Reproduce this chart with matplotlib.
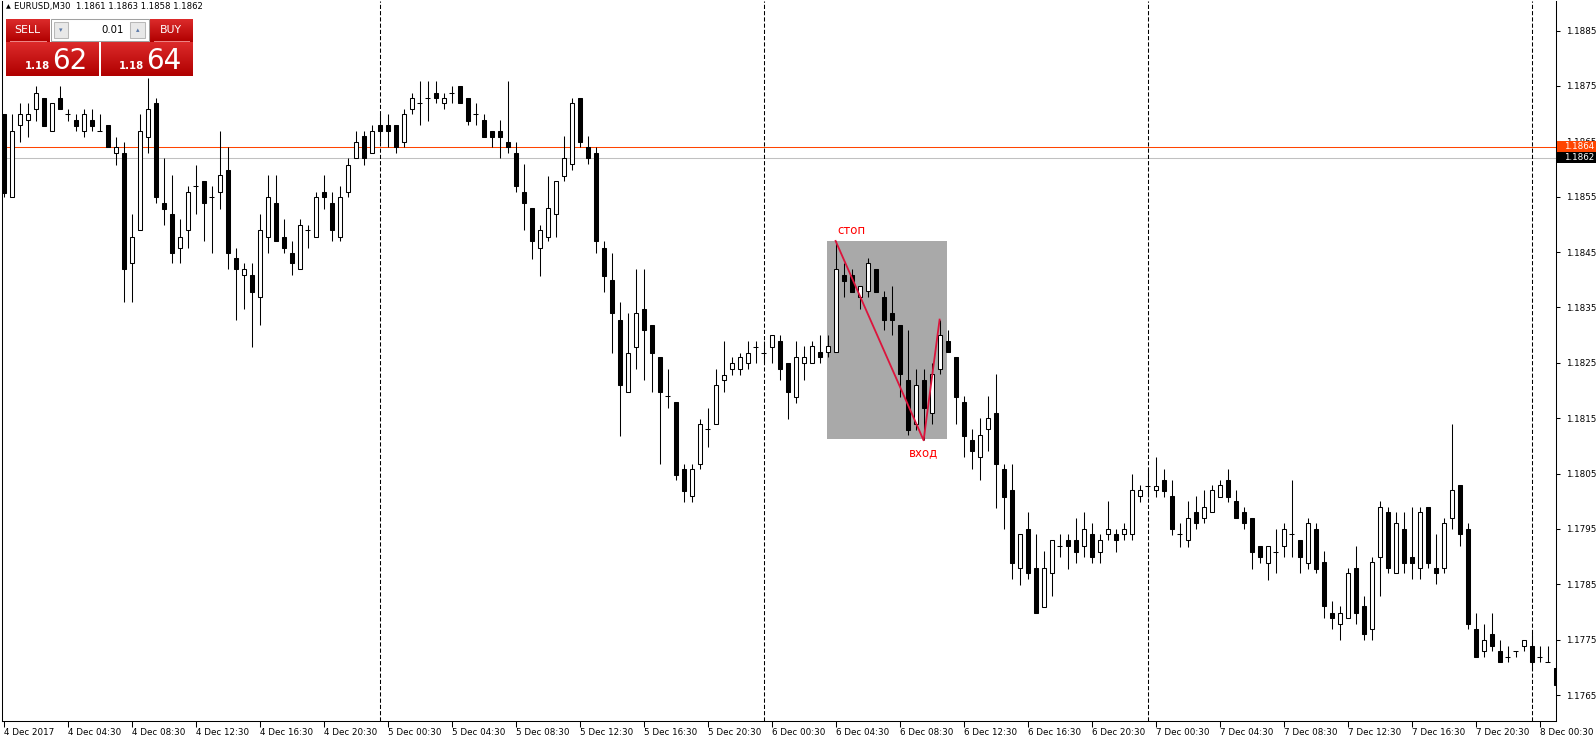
import matplotlib
matplotlib.use("Agg")
import matplotlib.pyplot as plt
from matplotlib.patches import Rectangle
from matplotlib.colors import LinearSegmentedColormap
from matplotlib.transforms import blended_transform_factory
import numpy as np

# EURUSD M30, 4 Dec 00:30 .. 8 Dec 01:00 (one bar per half hour)
opens = [1.18699, 1.18549, 1.18679, 1.18688, 1.18708, 1.18728, 1.18668, 1.18728, 1.18699, 1.18688,
         1.18668, 1.18688, 1.18668, 1.18679, 1.18628, 1.18628, 1.18430, 1.18489, 1.18658, 1.18719,
         1.18538, 1.18518, 1.18458, 1.18489, 1.18569, 1.18579, 1.18549, 1.18558, 1.18599, 1.18439,
         1.18409, 1.18409, 1.18368, 1.18478, 1.18538, 1.18478, 1.18449, 1.18419, 1.18489, 1.18478,
         1.18558, 1.18538, 1.18478, 1.18558, 1.18619, 1.18659, 1.18628, 1.18679, 1.18679, 1.18679,
         1.18648, 1.18708, 1.18719, 1.18728, 1.18738, 1.18719, 1.18738, 1.18750, 1.18728, 1.18699,
         1.18688, 1.18668, 1.18668, 1.18648, 1.18628, 1.18558, 1.18529, 1.18458, 1.18478, 1.18518,
         1.18588, 1.18609, 1.18728, 1.18639, 1.18629, 1.18458, 1.18399, 1.18328, 1.18198, 1.18279,
         1.18348, 1.18319, 1.18260, 1.18190, 1.18179, 1.18059, 1.18009, 1.18068, 1.18130, 1.18139,
         1.18218, 1.18238, 1.18238, 1.18249, 1.18279, 1.18268, 1.18279, 1.18289, 1.18249, 1.18189,
         1.18249, 1.18249, 1.18269, 1.18269, 1.18269, 1.18409, 1.18409, 1.18368, 1.18379, 1.18419,
         1.18368, 1.18339, 1.18319, 1.18218, 1.18139, 1.18218, 1.18159, 1.18239, 1.18289, 1.18260,
         1.18179, 1.18110, 1.18079, 1.18130, 1.18159, 1.18059, 1.18020, 1.17879, 1.17949, 1.17879,
         1.17809, 1.17870, 1.17919, 1.17930, 1.17930, 1.17919, 1.17940, 1.17909, 1.17940, 1.17940,
         1.17940, 1.17940, 1.18009, 1.18028, 1.18020, 1.18039, 1.18009, 1.17940, 1.17930, 1.17980,
         1.17969, 1.17980, 1.18008, 1.18039, 1.18000, 1.17980, 1.17969, 1.17919, 1.17889, 1.17909,
         1.17919, 1.17940, 1.17930, 1.17889, 1.17949, 1.17890, 1.17799, 1.17779, 1.17790, 1.17879,
         1.17810, 1.17770, 1.17899, 1.17980, 1.17870, 1.17949, 1.17899, 1.17879, 1.17989, 1.17879,
         1.17879, 1.17969, 1.18029, 1.17949, 1.17770, 1.17729, 1.17760, 1.17729, 1.17719, 1.17729,
         1.17739, 1.17739, 1.17719, 1.17709, 1.17699]
highs = [1.18700, 1.18699, 1.18719, 1.18719, 1.18750, 1.18728, 1.18719, 1.18750, 1.18708, 1.18699,
         1.18708, 1.18708, 1.18699, 1.18679, 1.18658, 1.18648, 1.18518, 1.18699, 1.18764, 1.18728,
         1.18619, 1.18589, 1.18509, 1.18569, 1.18608, 1.18579, 1.18569, 1.18668, 1.18639, 1.18458,
         1.18430, 1.18430, 1.18518, 1.18589, 1.18589, 1.18509, 1.18469, 1.18509, 1.18498, 1.18558,
         1.18589, 1.18558, 1.18569, 1.18619, 1.18668, 1.18668, 1.18679, 1.18699, 1.18699, 1.18679,
         1.18708, 1.18738, 1.18759, 1.18759, 1.18759, 1.18738, 1.18750, 1.18750, 1.18728, 1.18719,
         1.18699, 1.18668, 1.18688, 1.18759, 1.18648, 1.18609, 1.18529, 1.18498, 1.18588, 1.18579,
         1.18660, 1.18728, 1.18728, 1.18660, 1.18639, 1.18469, 1.18449, 1.18359, 1.18339, 1.18419,
         1.18419, 1.18319, 1.18260, 1.18238, 1.18179, 1.18068, 1.18068, 1.18149, 1.18169, 1.18238,
         1.18289, 1.18260, 1.18268, 1.18289, 1.18289, 1.18289, 1.18300, 1.18300, 1.18249, 1.18289,
         1.18280, 1.18289, 1.18300, 1.18300, 1.18470, 1.18430, 1.18419, 1.18388, 1.18439, 1.18419,
         1.18379, 1.18389, 1.18319, 1.18309, 1.18239, 1.18239, 1.18249, 1.18328, 1.18309, 1.18260,
         1.18190, 1.18130, 1.18150, 1.18190, 1.18229, 1.18068, 1.18068, 1.17941, 1.17980, 1.17941,
         1.17910, 1.17930, 1.17940, 1.17940, 1.17970, 1.17980, 1.17960, 1.17940, 1.18000, 1.17950,
         1.17960, 1.18049, 1.18029, 1.18059, 1.18079, 1.18059, 1.18039, 1.17960, 1.18000, 1.18009,
         1.18020, 1.18029, 1.18039, 1.18059, 1.18020, 1.17989, 1.17969, 1.17919, 1.17919, 1.17949,
         1.17960, 1.18039, 1.17930, 1.17969, 1.17960, 1.17910, 1.17820, 1.17810, 1.17880, 1.17920,
         1.17829, 1.17900, 1.18000, 1.17989, 1.17980, 1.17980, 1.17989, 1.17989, 1.17989, 1.17940,
         1.17969, 1.18139, 1.18029, 1.17960, 1.17799, 1.17779, 1.17799, 1.17749, 1.17739, 1.17729,
         1.17749, 1.17763, 1.17739, 1.17739, 1.17709]
lows = [1.18549, 1.18549, 1.18648, 1.18658, 1.18687, 1.18678, 1.18668, 1.18708, 1.18687, 1.18668,
        1.18658, 1.18668, 1.18668, 1.18639, 1.18608, 1.18359, 1.18359, 1.18489, 1.18628, 1.18538,
        1.18498, 1.18430, 1.18430, 1.18458, 1.18518, 1.18469, 1.18449, 1.18528, 1.18419, 1.18328,
        1.18348, 1.18279, 1.18319, 1.18449, 1.18469, 1.18449, 1.18409, 1.18419, 1.18458, 1.18478,
        1.18528, 1.18469, 1.18469, 1.18549, 1.18619, 1.18608, 1.18628, 1.18648, 1.18639, 1.18628,
        1.18639, 1.18699, 1.18679, 1.18687, 1.18719, 1.18708, 1.18719, 1.18719, 1.18679, 1.18679,
        1.18658, 1.18639, 1.18619, 1.18628, 1.18558, 1.18489, 1.18438, 1.18407, 1.18469, 1.18478,
        1.18579, 1.18599, 1.18639, 1.18609, 1.18449, 1.18378, 1.18268, 1.18118, 1.18198, 1.18238,
        1.18218, 1.18198, 1.18068, 1.18169, 1.18039, 1.17999, 1.17999, 1.18059, 1.18098, 1.18139,
        1.18198, 1.18228, 1.18228, 1.18238, 1.18249, 1.18249, 1.18249, 1.18218, 1.18149, 1.18178,
        1.18218, 1.18249, 1.18249, 1.18260, 1.18269, 1.18368, 1.18378, 1.18348, 1.18368, 1.18378,
        1.18309, 1.18300, 1.18189, 1.18120, 1.18129, 1.18110, 1.18139, 1.18229, 1.18269, 1.18139,
        1.18079, 1.18059, 1.18039, 1.18090, 1.17988, 1.17949, 1.17859, 1.17849, 1.17859, 1.17799,
        1.17809, 1.17829, 1.17899, 1.17878, 1.17889, 1.17899, 1.17889, 1.17889, 1.17930, 1.17909,
        1.17930, 1.17930, 1.17999, 1.18008, 1.18008, 1.18008, 1.17939, 1.17918, 1.17918, 1.17949,
        1.17960, 1.17980, 1.18008, 1.17999, 1.17969, 1.17949, 1.17878, 1.17889, 1.17858, 1.17870,
        1.17899, 1.17899, 1.17870, 1.17878, 1.17870, 1.17790, 1.17770, 1.17749, 1.17790, 1.17779,
        1.17749, 1.17749, 1.17829, 1.17870, 1.17870, 1.17870, 1.17859, 1.17859, 1.17879, 1.17850,
        1.17870, 1.17949, 1.17919, 1.17770, 1.17719, 1.17719, 1.17729, 1.17709, 1.17709, 1.17719,
        1.17729, 1.17695, 1.17709, 1.17709, 1.17658]
closes = [1.18557, 1.18668, 1.18699, 1.18699, 1.18738, 1.18678, 1.18719, 1.18708, 1.18699, 1.18678,
          1.18699, 1.18678, 1.18668, 1.18639, 1.18639, 1.18419, 1.18478, 1.18668, 1.18708, 1.18549,
          1.18528, 1.18449, 1.18478, 1.18558, 1.18569, 1.18538, 1.18549, 1.18589, 1.18449, 1.18419,
          1.18419, 1.18378, 1.18489, 1.18549, 1.18469, 1.18458, 1.18430, 1.18498, 1.18489, 1.18549,
          1.18549, 1.18489, 1.18549, 1.18608, 1.18648, 1.18619, 1.18668, 1.18668, 1.18668, 1.18639,
          1.18699, 1.18728, 1.18719, 1.18728, 1.18728, 1.18728, 1.18738, 1.18719, 1.18687, 1.18699,
          1.18658, 1.18658, 1.18658, 1.18639, 1.18569, 1.18538, 1.18469, 1.18489, 1.18529, 1.18579,
          1.18619, 1.18719, 1.18648, 1.18619, 1.18469, 1.18407, 1.18339, 1.18209, 1.18268, 1.18339,
          1.18309, 1.18268, 1.18198, 1.18190, 1.18048, 1.18019, 1.18059, 1.18139, 1.18130, 1.18209,
          1.18228, 1.18249, 1.18260, 1.18268, 1.18279, 1.18268, 1.18300, 1.18238, 1.18198, 1.18260,
          1.18260, 1.18280, 1.18260, 1.18280, 1.18419, 1.18398, 1.18378, 1.18388, 1.18430, 1.18378,
          1.18328, 1.18328, 1.18229, 1.18129, 1.18209, 1.18169, 1.18229, 1.18300, 1.18269, 1.18189,
          1.18118, 1.18090, 1.18120, 1.18150, 1.18068, 1.18008, 1.17889, 1.17941, 1.17870, 1.17799,
          1.17879, 1.17930, 1.17919, 1.17919, 1.17909, 1.17950, 1.17899, 1.17930, 1.17950, 1.17930,
          1.17950, 1.18020, 1.18020, 1.18028, 1.18028, 1.18019, 1.17949, 1.17940, 1.17969, 1.17960,
          1.17989, 1.18020, 1.18029, 1.18008, 1.17969, 1.17960, 1.17909, 1.17899, 1.17919, 1.17909,
          1.17949, 1.17940, 1.17899, 1.17960, 1.17878, 1.17810, 1.17790, 1.17799, 1.17870, 1.17799,
          1.17760, 1.17890, 1.17989, 1.17879, 1.17960, 1.17889, 1.17889, 1.17980, 1.17889, 1.17870,
          1.17960, 1.18020, 1.17940, 1.17779, 1.17719, 1.17749, 1.17739, 1.17709, 1.17719, 1.17729,
          1.17749, 1.17709, 1.17719, 1.17709, 1.17668]

time_labels = ["4 Dec 2017", "4 Dec 04:30", "4 Dec 08:30", "4 Dec 12:30", "4 Dec 16:30", "4 Dec 20:30",
               "5 Dec 00:30", "5 Dec 04:30", "5 Dec 08:30", "5 Dec 12:30", "5 Dec 16:30", "5 Dec 20:30",
               "6 Dec 00:30", "6 Dec 04:30", "6 Dec 08:30", "6 Dec 12:30", "6 Dec 16:30", "6 Dec 20:30",
               "7 Dec 00:30", "7 Dec 04:30", "7 Dec 08:30", "7 Dec 12:30", "7 Dec 16:30", "7 Dec 20:30",
               "8 Dec 00:30"]
label_step = 8
day_breaks = [47, 95, 143, 191]
price_ticks = [1.1765, 1.1775, 1.1785, 1.1795, 1.1805, 1.1815, 1.1825,
               1.1835, 1.1845, 1.1855, 1.1865, 1.1875, 1.1885]
ask_price, bid_price = 1.1864, 1.1862
header = "EURUSD,M30  1.1861 1.1863 1.1858 1.1862"

# hand drawn trade idea
trade_bars = [104, 115, 117]
trade_prices = [1.18470, 1.18110, 1.18328]
box_bars = (103, 118)
box_prices = (1.18113, 1.18470)

W, H = 1596, 744
plt.rcParams["font.family"] = "DejaVu Sans"
fig = plt.figure(figsize=(W / 100, H / 100), dpi=100)
fig.patch.set_facecolor("white")

ax = fig.add_axes([2 / W, 23 / H, 1554 / W, 720 / H])
ax.set_xlim(-0.2, 194.05)
ax.set_ylim(1.176031, 1.189033)

o = np.array(opens)
h = np.array(highs)
l = np.array(lows)
c = np.array(closes)
x = np.arange(len(o))

ax.vlines(x, l, h, color="black", lw=0.75, zorder=3)
up = c > o
dn = c < o
flat = c == o
ax.bar(x[up], (c - o)[up], bottom=o[up], width=0.5, facecolor="white",
       edgecolor="black", linewidth=0.75, zorder=4)
ax.bar(x[dn], (o - c)[dn], bottom=c[dn], width=0.5, facecolor="black",
       edgecolor="black", linewidth=0.75, zorder=4)
ax.hlines(c[flat], x[flat] - 0.3, x[flat] + 0.3, color="black", lw=0.75, zorder=4)

# rectangle + lines of the setup
ax.add_patch(Rectangle((box_bars[0] - 0.1, box_prices[0]), box_bars[1] - box_bars[0],
                       box_prices[1] - box_prices[0], facecolor="#A9A9A9",
                       edgecolor="none", zorder=1))
ax.plot(trade_bars, trade_prices, color="#DC143C", lw=1.3, zorder=5)
ax.annotate("стоп", xy=(trade_bars[0], trade_prices[0]), xytext=(2, 10),
            textcoords="offset pixels", color="red", fontsize=8.5, ha="left", va="center")
ax.annotate("вход", xy=(trade_bars[1], trade_prices[1]), xytext=(0, -12),
            textcoords="offset pixels", color="red", fontsize=8.5, ha="center", va="center")

ax.axhline(bid_price, color="#C0C0C0", lw=0.75, zorder=2)
ax.axhline(ask_price, color="#FF4500", lw=0.75, zorder=2)
for b in day_breaks:
    ax.axvline(b, color="black", lw=0.75, ls=(0, (4, 2)), zorder=2)

ax.set_xticks(np.arange(len(time_labels)) * label_step)
ax.set_xticklabels(time_labels, ha="left")
ax.yaxis.tick_right()
ax.set_yticks(price_ticks)
ax.set_yticklabels([f"{p:.4f}" for p in price_ticks])
ax.tick_params(axis="x", direction="out", length=4, width=0.75, pad=1, labelsize=6.3)
ax.tick_params(axis="y", direction="out", length=3, width=0.75, pad=4, labelsize=6.3)
for side in ("left", "bottom", "right"):
    ax.spines[side].set_linewidth(0.75)
ax.spines["top"].set_visible(False)

# price tags on the right scale
tr = blended_transform_factory(ax.transAxes, ax.transData)
tag_h = 11 * (ax.get_ylim()[1] - ax.get_ylim()[0]) / 720
for price, col in ((ask_price, "#FF4500"), (bid_price, "black")):
    ax.add_patch(Rectangle((1.0005, price - tag_h / 2), 40 / 1554, tag_h, transform=tr,
                           facecolor=col, edgecolor="none", clip_on=False, zorder=10))
    ax.text(1.0005 + 7 / 1554, price, f"{price:.4f}", transform=tr, color="white",
            fontsize=6.3, va="center", ha="left", zorder=11, clip_on=False)

# overlay in pixel units: header and one-click panel
ov = fig.add_axes([0, 0, 1, 1], zorder=5)
ov.set_xlim(0, W)
ov.set_ylim(H, 0)
ov.axis("off")
ov.patch.set_alpha(0)

ov.text(8, 7, "▲", fontsize=4.5, ha="center", va="center", color="black")
ov.text(14, 7, header, fontsize=6.1, ha="left", va="center", color="black")

reds = LinearSegmentedColormap.from_list("reds", ["#DC2A2A", "#B00000"])


def red_block(x0, y0, x1, y1):
    grad = np.linspace(0, 1, 32).reshape(-1, 1)
    ov.imshow(grad, extent=(x0, x1, y1, y0), cmap=reds, aspect="auto",
              interpolation="bilinear", zorder=1)


red_block(6, 19, 50, 42)
red_block(150, 19, 193, 42)
red_block(6, 42, 99, 76)
red_block(101, 42, 193, 76)
ov.plot([10, 46], [41, 41], color="#EE8888", lw=0.7, zorder=2)
ov.plot([154, 189], [41, 41], color="#EE8888", lw=0.7, zorder=2)
ov.text(27, 30, "SELL", color="white", fontsize=7.8, ha="center", va="center", zorder=3)
ov.text(171, 30, "BUY", color="white", fontsize=7.8, ha="center", va="center", zorder=3)

ov.add_patch(Rectangle((51, 19), 98, 22, facecolor="white", edgecolor="#A0A0A0", lw=0.75, zorder=2))
ov.add_patch(Rectangle((54, 22), 14, 16, facecolor="#E8E8E8", edgecolor="#B8B8B8", lw=0.75, zorder=3))
ov.add_patch(Rectangle((130, 22), 15, 16, facecolor="#E8E8E8", edgecolor="#B8B8B8", lw=0.75, zorder=3))
ov.text(61, 30, "▾", color="#5A78A8", fontsize=5, ha="center", va="center", zorder=4)
ov.text(137.5, 30, "▴", color="#5A78A8", fontsize=5, ha="center", va="center", zorder=4)
ov.text(124, 30, "0.01", color="black", fontsize=7.3, ha="right", va="center", zorder=4)

ov.text(25, 69, "1.18", color="white", fontsize=7.3, fontweight="bold", ha="left", va="baseline", zorder=3)
ov.text(52, 69, "62", color="white", fontsize=20, ha="left", va="baseline", zorder=3)
ov.text(119, 69, "1.18", color="white", fontsize=7.3, fontweight="bold", ha="left", va="baseline", zorder=3)
ov.text(146, 69, "64", color="white", fontsize=20, ha="left", va="baseline", zorder=3)

fig.savefig("out.png", dpi=100, facecolor="white")
